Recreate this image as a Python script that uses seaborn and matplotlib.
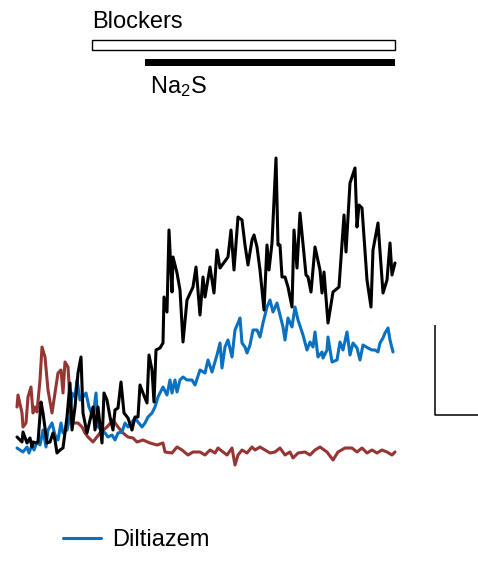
import numpy as np
import pandas as pd
import matplotlib
matplotlib.use('Agg')
import matplotlib.pyplot as plt
from matplotlib.patches import Rectangle
import seaborn as sns

# Trazas (tiempo en s, amplitud en u.a.)
t_control = [0, 5, 6, 10, 13, 15, 16, 19, 21, 24, 26, 30, 33, 36, 38, 40, 43, 46, 50, 53,
             55, 58, 61, 64, 66, 70, 73, 76, 78, 81, 85, 87, 90, 93, 96, 98, 101, 104, 107, 111,
             115, 118, 121, 123, 126, 130, 132, 135, 137, 139, 143, 146, 147, 150, 152, 155, 156, 160, 163, 166,
             170, 176, 179, 183, 186, 188, 193, 197, 200, 203, 211, 214, 217, 221, 225, 228, 231, 235, 237, 240,
             243, 247, 250, 252, 255, 259, 261, 263, 265, 268, 271, 275, 277, 280, 283, 289, 291, 294, 298, 303,
             305, 307, 311, 316, 322, 327, 329, 333, 338, 340, 342, 345, 350, 354, 356, 361, 366, 370, 373, 375,
             378]
control = [23, 18, 28, 17, 22, 13, 18, 17, 18, 58, 47, 17, 18, 27, 20, 7, 10, 12, 43, 77,
           30, 53, 87, 103, 47, 27, 40, 53, 30, 53, 17, 67, 60, 43, 30, 50, 52, 78, 47, 42,
           30, 43, 43, 75, 67, 57, 105, 90, 58, 110, 112, 117, 163, 148, 230, 168, 203, 187, 170, 118,
           160, 173, 193, 145, 183, 163, 193, 167, 210, 192, 203, 230, 190, 243, 240, 215, 195, 220, 225, 213,
           190, 150, 215, 190, 217, 302, 215, 215, 183, 183, 173, 153, 230, 192, 247, 185, 183, 168, 213, 190,
           167, 188, 137, 168, 173, 245, 208, 277, 292, 233, 255, 252, 180, 153, 210, 237, 167, 180, 217, 185,
           197]

t_diltiazem = [0, 6, 10, 12, 15, 17, 20, 23, 26, 29, 31, 35, 38, 41, 44, 46, 50, 53, 55, 58,
               60, 63, 66, 69, 72, 76, 79, 81, 85, 88, 91, 95, 98, 101, 105, 108, 111, 115, 118, 121,
               125, 128, 131, 135, 138, 141, 146, 150, 153, 155, 158, 160, 163, 166, 170, 175, 178, 183, 188, 191,
               195, 200, 203, 205, 208, 211, 215, 218, 221, 223, 225, 228, 230, 233, 236, 240, 243, 246, 250, 253,
               256, 260, 263, 266, 268, 271, 275, 278, 281, 286, 290, 293, 296, 298, 301, 305, 306, 310, 311, 315,
               320, 323, 326, 330, 333, 336, 340, 343, 346, 351, 355, 358, 361, 363, 366, 368, 371, 373, 376]
diltiazem = [12, 8, 13, 7, 15, 10, 18, 15, 30, 13, 30, 37, 25, 20, 37, 27, 30, 43, 67, 63,
             80, 60, 63, 67, 53, 43, 67, 33, 30, 27, 23, 25, 20, 27, 28, 37, 33, 38, 42, 38,
             33, 37, 43, 47, 53, 63, 73, 65, 80, 67, 80, 68, 80, 83, 80, 80, 75, 90, 87, 100,
             88, 105, 117, 92, 113, 120, 103, 130, 137, 142, 117, 113, 107, 115, 130, 130, 123, 137, 153, 160,
             148, 157, 145, 133, 120, 142, 133, 153, 140, 125, 110, 118, 113, 128, 103, 108, 102, 110, 123, 98,
             100, 118, 110, 128, 105, 117, 112, 100, 115, 112, 110, 110, 108, 117, 122, 127, 132, 120, 108]

t_otro = [0, 1, 5, 6, 9, 11, 14, 16, 18, 20, 23, 25, 28, 31, 35, 38, 41, 44, 46, 48,
          51, 53, 56, 61, 65, 68, 71, 76, 83, 90, 96, 101, 106, 111, 116, 120, 126, 133, 140, 146,
          148, 155, 160, 165, 171, 176, 183, 188, 193, 198, 201, 206, 210, 215, 218, 221, 225, 230, 235, 238,
          243, 248, 253, 258, 263, 268, 273, 276, 281, 288, 293, 298, 303, 310, 316, 321, 328, 335, 340, 345,
          350, 355, 360, 365, 370, 375, 378]
otro = [53, 65, 47, 33, 37, 63, 73, 47, 53, 48, 80, 113, 103, 70, 47, 67, 87, 90, 67, 98,
        93, 60, 37, 37, 33, 27, 23, 18, 27, 33, 40, 33, 27, 23, 22, 18, 20, 17, 15, 17,
        8, 7, 13, 10, 5, 8, 8, 5, 10, 7, 12, 8, 5, 12, -5, 5, 10, 7, 13, 10,
        13, 10, 7, 8, 12, 5, 8, 2, 7, 8, 5, 10, 13, 8, 0, 8, 12, 12, 8, 12,
        7, 10, 7, 10, 8, 5, 8]

color_negro = '#000000'
color_azul = '#0A70C0'
color_rojo = '#953634'

sns.set_style('white')
plt.rcParams['font.family'] = ['Liberation Sans', 'DejaVu Sans']
plt.rcParams['mathtext.default'] = 'regular'
plt.rcParams['text.color'] = 'black'

fig = plt.figure(figsize=(4.78, 5.62), dpi=100)
ax = fig.add_axes([0, 0, 1, 1])

sns.lineplot(x=t_otro, y=otro, color=color_rojo, linewidth=2.2, legend=False, ax=ax)
sns.lineplot(x=t_diltiazem, y=diltiazem, color=color_azul, linewidth=2.2, label='Diltiazem', ax=ax)
sns.lineplot(x=t_control, y=control, color=color_negro, linewidth=2.2, legend=False, ax=ax)

ax.set_xlim(-17, 461)
ax.set_ylim(-102, 460)
ax.axis('off')

# barras de tratamiento
ax.add_patch(Rectangle((75, 410), 303, 10, facecolor='white', edgecolor='black', linewidth=1))
ax.add_patch(Rectangle((128, 394), 250, 7, facecolor='black', edgecolor='black', linewidth=0))
ax.text(75, 432, 'Blockers', fontsize=17, va='baseline', ha='left', color='black')
ax.text(133, 367, r'Na$_2$S', fontsize=17, va='baseline', ha='left', color='black')

# barra de escala
ax.plot([418, 418, 461], [135, 45, 45], color='black', linewidth=1.1, solid_capstyle='butt')

leg = ax.legend(loc='center left', bbox_to_anchor=(63 / 478, 1 - 540 / 562), frameon=False,
                fontsize=17, handlelength=1.6, handletextpad=0.5, borderpad=0, borderaxespad=0)
for txt in leg.get_texts():
    txt.set_color('black')

fig.savefig('out.png', dpi=100)
